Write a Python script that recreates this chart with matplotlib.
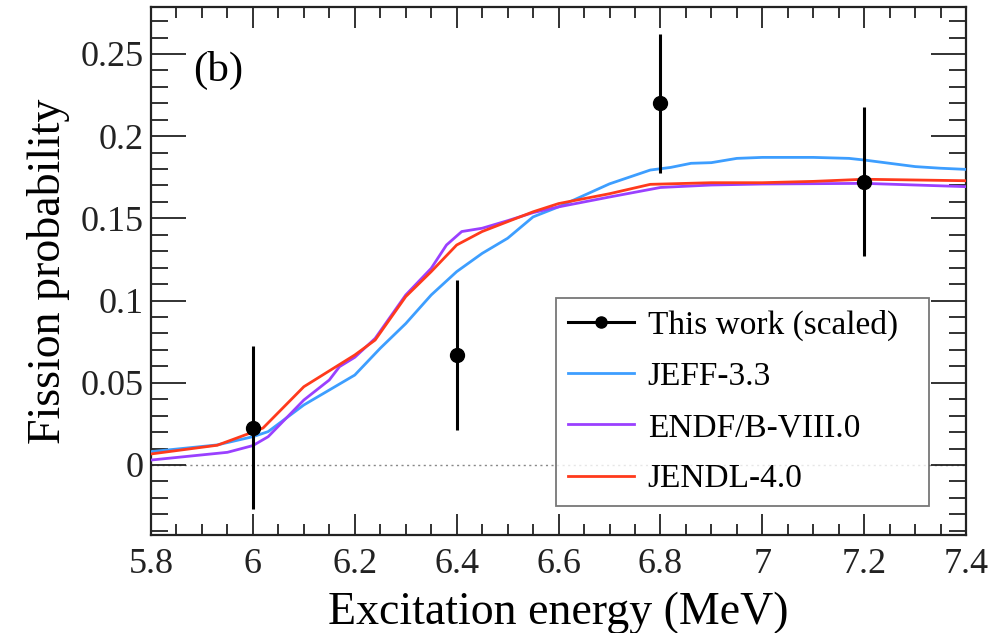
import matplotlib
matplotlib.use("Agg")
import matplotlib.pyplot as plt
from matplotlib.ticker import MultipleLocator, FixedLocator
from matplotlib.lines import Line2D

plt.rcParams['font.family'] = ['Liberation Serif', 'DejaVu Serif']

# Experimental data (this work, scaled)
exp_x = [6.0, 6.4, 6.8, 7.2]
exp_y = [0.0227, 0.0669, 0.2200, 0.1723]
exp_err = [0.0497, 0.0456, 0.0424, 0.0452]

# JEFF-3.3
jeff_x = [5.8, 5.93, 6.0, 6.03, 6.1, 6.15, 6.2, 6.25, 6.3, 6.35, 6.4, 6.45, 6.5,
          6.55, 6.6, 6.7, 6.78, 6.82, 6.86, 6.9, 6.95, 7.0, 7.1, 7.17, 7.2, 7.25,
          7.3, 7.35, 7.4]
jeff_y = [0.0081, 0.0122, 0.0172, 0.0203, 0.0365, 0.0456, 0.0547, 0.0710, 0.0860,
          0.1034, 0.1176, 0.1287, 0.1379, 0.1509, 0.1570, 0.1710, 0.1794, 0.1810,
          0.1835, 0.1839, 0.1865, 0.1871, 0.1871, 0.1865, 0.1855, 0.1835, 0.1815,
          0.1805, 0.1798]

# ENDF/B-VIII.0
endf_x = [5.8, 5.95, 6.0, 6.03, 6.1, 6.15, 6.17, 6.2, 6.24, 6.3, 6.35, 6.38, 6.41,
          6.45, 6.5, 6.55, 6.6, 6.7, 6.8, 6.9, 7.0, 7.2, 7.4]
endf_y = [0.0030, 0.0077, 0.0118, 0.0172, 0.0395, 0.0517, 0.0598, 0.0655, 0.0770,
          0.1034, 0.1196, 0.1338, 0.1420, 0.1440, 0.1486, 0.1535, 0.1570, 0.1630,
          0.1688, 0.1703, 0.1709, 0.1713, 0.1693]

# JENDL-4.0
jendl_x = [5.8, 5.93, 6.0, 6.02, 6.1, 6.2, 6.24, 6.3, 6.35, 6.4, 6.45, 6.5, 6.55,
           6.6, 6.7, 6.78, 6.9, 7.0, 7.1, 7.2, 7.4]
jendl_y = [0.0067, 0.0120, 0.0200, 0.0225, 0.0476, 0.0669, 0.0760, 0.1024, 0.1176,
           0.1338, 0.1420, 0.1480, 0.1540, 0.1590, 0.1650, 0.1707, 0.1717, 0.1717,
           0.1725, 0.1738, 0.1729]

x_ticks = [5.8, 6.0, 6.2, 6.4, 6.6, 6.8, 7.0, 7.2, 7.4]
x_ticklabels = ["5.8", "6", "6.2", "6.4", "6.6", "6.8", "7", "7.2", "7.4"]
y_ticks = [0.0, 0.05, 0.1, 0.15, 0.2, 0.25]
y_ticklabels = ["0", "0.05", "0.1", "0.15", "0.2", "0.25"]

fig = plt.figure(figsize=(9.96, 6.33), dpi=100)
ax = fig.add_axes([0.1516, 0.1548, 0.8184, 0.8342])

ax.axhline(0, color='#888888', lw=1.0, ls=(0, (1.5, 2.5)), zorder=1)

c_jeff, c_endf, c_jendl = '#3d9eff', '#9a40ff', '#ff3a1c'
ax.plot(jeff_x, jeff_y, color=c_jeff, lw=2.0, zorder=3)
ax.plot(endf_x, endf_y, color=c_endf, lw=2.0, zorder=3)
ax.plot(jendl_x, jendl_y, color=c_jendl, lw=2.0, zorder=4)
ax.errorbar(exp_x, exp_y, yerr=exp_err, fmt='o', color='black', ms=10,
            elinewidth=2.2, capsize=0, zorder=5)

ax.set_xlim(5.8, 7.4)
ax.set_ylim(-0.0426, 0.2786)
ax.xaxis.set_major_locator(FixedLocator(x_ticks))
ax.set_xticklabels(x_ticklabels)
ax.yaxis.set_major_locator(FixedLocator(y_ticks))
ax.set_yticklabels(y_ticklabels)
ax.xaxis.set_minor_locator(MultipleLocator(0.05))
ax.yaxis.set_minor_locator(MultipleLocator(0.01))

ax.tick_params(axis='both', which='both', direction='in', top=True, right=True,
               labelsize=26, colors='#222222', width=1.3)
ax.tick_params(axis='x', which='major', length=15, pad=9)
ax.tick_params(axis='x', which='minor', length=8)
ax.tick_params(axis='y', which='major', length=25, pad=5)
ax.tick_params(axis='y', which='minor', length=12)
for s in ax.spines.values():
    s.set_linewidth(1.6)
    s.set_color('#222222')

ax.set_xlabel('Excitation energy (MeV)', fontsize=33, labelpad=8)
ax.set_ylabel('Fission probability', fontsize=33, labelpad=8)

ax.text(0.052, 0.88, '(b)', transform=ax.transAxes, fontsize=31,
        ha='left', va='center')

handles = [
    Line2D([], [], color='black', lw=2.2, marker='o', ms=8),
    Line2D([], [], color=c_jeff, lw=2.0),
    Line2D([], [], color=c_endf, lw=2.0),
    Line2D([], [], color=c_jendl, lw=2.0),
]
labels = ['This work (scaled)', 'JEFF-3.3', 'ENDF/B-VIII.0', 'JENDL-4.0']
leg = ax.legend(handles, labels,
                loc='lower left', bbox_to_anchor=(0.497, 0.055, 0.458, 0.388),
                mode='expand', fontsize=24, frameon=True, fancybox=False,
                edgecolor='#555555', handlelength=2.0, borderpad=0.35,
                labelspacing=0.62, handletextpad=0.4, borderaxespad=0)
leg.get_frame().set_linewidth(1.3)
leg.set_zorder(10)

fig.savefig('out.png', dpi=100)
